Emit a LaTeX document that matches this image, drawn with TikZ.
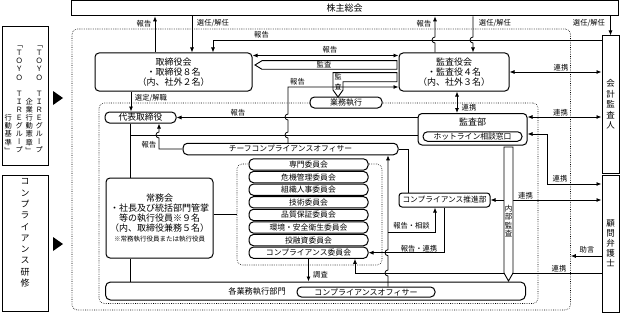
\documentclass[tikz,border=0pt]{standalone}
\usepackage{fontspec}
\setmainfont{Noto Sans CJK JP}
\newfontfamily\vertfont[RawFeature=+vert]{Noto Sans CJK JP}
\usetikzlibrary{arrows.meta}

\begin{document}
\begin{tikzpicture}[x=1pt,y=-1pt,
  >={Latex[length=5pt,width=4pt]},
  line width=0.8pt,
  box/.style={draw,fill=white,line width=1pt,rounded corners=4pt,inner sep=1pt,align=center,font=\fontsize{9}{10}\selectfont},
  sqbox/.style={box,rounded corners=0pt},
  pill/.style={draw,fill=white,line width=1pt,rounded corners=4.5pt,inner sep=0pt,font=\fontsize{7.8}{8}\selectfont},
  lbl/.style={inner sep=0.5pt,font=\fontsize{7.3}{8}\selectfont},
  vtxt/.style={inner sep=0pt,align=center},
  dotbox/.style={draw,line width=0.6pt,dash pattern=on 0.6pt off 1.2pt,rounded corners=5pt},
  blockarrow/.style={draw,line width=0.9pt,fill=white}]
  \useasboundingbox (0,0) rectangle (621,313);

  % dotted regions
  \node[dotbox, minimum width=498.5, minimum height=281] (outer) at (321.25,169.5) {};
  \node[dotbox, minimum width=439, minimum height=200.5] (inner) at (318.5,203.25) {};
  \node[dotbox, minimum width=145, minimum height=101] (grp) at (309.5,214.5) {};

  % left column
  \node[sqbox, minimum width=45.5, minimum height=138] (code) at (25.25,96) {};
  \node[vtxt, anchor=south, font=\vertfont\fontsize{7.3}{8.1}\selectfont] (code-c1) at (39.3,153.5) {「\\Ｔ\\Ｏ\\Ｙ\\Ｏ\\　\\Ｔ\\Ｉ\\Ｒ\\Ｅ\\グ\\ル\\ー\\プ};
  \node[vtxt, anchor=south, font=\vertfont\fontsize{7.3}{8.1}\selectfont] (code-c2) at (29.3,153.5) {企\\業\\行\\動\\憲\\章\\」};
  \node[vtxt, anchor=south, font=\vertfont\fontsize{7.3}{8.1}\selectfont] (code-c3) at (19.3,153.5) {「\\Ｔ\\Ｏ\\Ｙ\\Ｏ\\　\\Ｔ\\Ｉ\\Ｒ\\Ｅ\\グ\\ル\\ー\\プ};
  \node[vtxt, anchor=south, font=\vertfont\fontsize{7.3}{8.1}\selectfont] (code-c4) at (8.3,153.5) {行\\動\\基\\準\\」};
  \node[sqbox, minimum width=45.5, minimum height=136] (training) at (25.25,243) {};
  \node[vtxt, font=\vertfont\fontsize{9}{11.3}\selectfont] (training-t) at (25,233) {コ\\ン\\プ\\ラ\\イ\\ア\\ン\\ス\\研\\修};
  \fill (53,91) -- (63,98) -- (53,105) -- cycle;
  \fill (53,237) -- (63,244) -- (53,251) -- cycle;

  % boxes
  \node[sqbox, minimum width=547, minimum height=15] (gm) at (344.5,8.3) {株主総会};
  \node[box, minimum width=157, minimum height=38] (bod) at (173.5,72) {取締役会\\・取締役８名\\（内、社外２名）};
  \node[box, minimum width=110, minimum height=38] (asb) at (454,72) {監査役会\\・監査役４名\\（内、社外３名）};
  \node[sqbox, minimum width=17, minimum height=137, font=\fontsize{8.5}{10.4}\selectfont] (auditor) at (610.5,104.5) {会\\計\\監\\査\\人};
  \node[sqbox, minimum width=17, minimum height=137, font=\fontsize{8.5}{10}\selectfont] (lawyer) at (610.5,243.5) {顧\\問\\弁\\護\\士};
  \node[pill, minimum width=71, minimum height=11, font=\fontsize{8.8}{9}\selectfont] (rep) at (140.5,117.5) {代表取締役};
  \node[pill, minimum width=72, minimum height=11, font=\fontsize{8}{9}\selectfont] (exec) at (346,102.5) {業務執行};
  \node[pill, minimum width=215, minimum height=11.5] (cco) at (290.5,149) {チーフコンプライアンスオフィサー};
  \node[box, minimum width=107, minimum height=80] (jm) at (159.5,218) {常務会\\・社長及び統括部門管掌\\等の執行役員※９名\\（内、取締役兼務５名）\\{\fontsize{6.5}{8}\selectfont ※常務執行役員または執行役員}};
  \node[box, minimum width=109, minimum height=31.5] (kansabu) at (472.5,129.25) {};
  \node[inner sep=0pt, font=\fontsize{9}{10}\selectfont] (kansabu-t) at (472.5,122.5) {監査部};
  \node[pill, minimum width=99, minimum height=9.5, font=\fontsize{7.8}{8}\selectfont] (hotline) at (472.5,136.5) {ホットライン相談窓口};
  \node[box, rounded corners=3pt, minimum width=91, minimum height=14, font=\fontsize{7.7}{8}\selectfont] (suishin) at (444.5,200) {コンプライアンス推進部};
  \node[pill, minimum width=119, minimum height=11.3] (com1) at (308.5,164.5) {専門委員会};
  \node[pill, minimum width=119, minimum height=11.3] (com2) at (308.5,177.1) {危機管理委員会};
  \node[pill, minimum width=119, minimum height=11.3] (com3) at (308.5,189.7) {組織人事委員会};
  \node[pill, minimum width=119, minimum height=11.3] (com4) at (308.5,202.3) {技術委員会};
  \node[pill, minimum width=119, minimum height=11.3] (com5) at (308.5,214.9) {品質保証委員会};
  \node[pill, minimum width=119, minimum height=11.3] (com6) at (308.5,227.5) {環境・安全衛生委員会};
  \node[pill, minimum width=119, minimum height=11.3] (com7) at (308.5,240.1) {投融資委員会};
  \node[pill, minimum width=119, minimum height=11.3] (com8) at (308.5,252.7) {コンプライアンス委員会};
  \node[box, rounded corners=5pt, minimum width=420, minimum height=18] (kakubu) at (315.5,291) {};
  \node[inner sep=0pt, font=\fontsize{8.2}{9}\selectfont] (kakubu-t) at (257,291) {各業務執行部門};
  \node[pill, minimum width=138, minimum height=10, font=\fontsize{8}{9}\selectfont] (co) at (366,292) {コンプライアンスオフィサー};

  % general meeting
  \draw[->] (bod.north -| 155,0) -- (gm.south -| 155,0);
  \node[lbl] (l-rep1) at (144,23.5) {報告};
  \draw[->] (gm.south -| 192,0) -- (bod.north -| 192,0);
  \node[lbl] (l-sel1) at (213,23.5) {選任/解任};
  \draw[->] (asb.north -| 435,0) -- (435,43) arc[start angle=-90,end angle=-270,radius=3pt] -- (gm.south -| 435,0);
  \node[lbl] (l-rep2) at (424,23.5) {報告};
  \draw[->] (gm.south -| 473,0) -- (473,37) arc[start angle=90,end angle=270,radius=3pt] -- (asb.north -| 473,0);
  \node[lbl] (l-sel2) at (495,23.5) {選任/解任};
  \draw[->] (gm.south -| auditor.north) -- (auditor.north);
  \node[lbl] (l-sel3) at (589,23.5) {選任/解任};

  % board and auditors
  \draw[->] (auditor.west |- 0,40) -| (bod.north -| 213,0);
  \node[lbl] (l-rep3) at (261.5,35) {報告};
  \draw[<->] (bod.east |- 0,55.5) -- (asb.west |- 0,55.5);
  \node[lbl] (l-rep4) at (330,50) {報告};
  \draw[blockarrow] (397,60.7) -- (262,60.7) -- (255,65) -- (262,69.3) -- (397,69.3) -- cycle;
  \node[lbl] (l-audit1) at (324,65) {監査};
  \draw[blockarrow] (397,72.7) -- (333,72.7) -- (333,90) -- (338,97) -- (343,90) -- (343,81.7) -- (397,81.7) -- cycle;
  \node[vtxt, font=\fontsize{7}{9.5}\selectfont] (l-audit2) at (338,82) {監\\査};
  \draw[->] (cco.north -| 288,0) -- (288,138) arc[start angle=-90,end angle=-270,radius=3pt] -- (288,120) arc[start angle=-90,end angle=-270,radius=3pt] -- (288,87) -- (asb.west |- 0,87);
  \node[lbl] (l-rep5) at (297.5,82) {報告};
  \draw[->] (bod.south -| 131,0) -- (rep.north -| 131,0);
  \node[lbl] (l-appoint) at (151,98.5) {選定/解職};

  % executive line
  \draw[->] (kansabu.west |- rep.east) -- (rep.east);
  \node[lbl] (l-rep6) at (238,112.5) {報告};
  \coordinate (spine) at (130,135);
  \draw (rep.south -| spine) -- (jm.north -| spine);
  \draw (jm.south -| spine) -- (kakubu.north -| spine);
  \draw (spine) -- (kansabu.west |- spine);
  \draw[->] (cco.west) -- (159,149) -- (159,138) arc[start angle=-90,end angle=-270,radius=3pt] -- (rep.south -| 159,0);
  \node[lbl] (l-rep7) at (149,144.5) {報告};

  % cooperation
  \draw[<->] (asb.south -| 457,0) -- (kansabu.north -| 457,0);
  \node[lbl] (l-link1) at (469,108) {連携};
  \draw[<->] (asb.east) -- (auditor.west |- asb.east);
  \node[lbl] (l-link2) at (561,67.5) {連携};
  \draw[<->] (kansabu.east |- 0,117) -- (auditor.west |- 0,117);
  \node[lbl] (l-link3) at (560.5,112.5) {連携};
  \draw[<->] (kansabu.east |- 0,134) -- (547,134) -- (547,184) -- (lawyer.west |- 0,184);
  \node[lbl] (l-link4) at (560,179) {連携};
  \draw[<->] (suishin.east) -- (lawyer.west |- suishin.east);
  \node[lbl] (l-link5) at (525.5,195.5) {連携};

  % compliance
  \draw (cco.east) -| (suishin.north -| 408,0);
  \draw (jm.east |- grp.west) -- (grp.west);
  \draw[->] (com8.south) -- (kakubu.north -| com8.south);
  \node[lbl] (l-survey) at (320.5,274.5) {調査};
  \draw[->] (co.north -| 388,0) -- (388,276) arc[start angle=-90,end angle=-270,radius=3pt] -- (388,255.7) arc[start angle=-90,end angle=-270,radius=3pt] -- (cco.south -| 388,0);
  \coordinate (consult) at (388,232);
  \draw[->] (consult) -| (suishin.south -| 435,0);
  \node[lbl] (l-consult) at (411.5,225.5) {報告・相談};
  \draw[->] (suishin.south) |- (com8.east);
  \node[lbl] (l-coop) at (419,248.5) {報告・連携};
  \draw[->] (lawyer.west |- 0,256) -- (outer.east |- 0,256);
  \node[lbl] (l-advice) at (587,250) {助言};
  \draw[->] (lawyer.west |- 0,273) -- (355,273) -- (com8.south -| 355,0);
  \node[lbl] (l-link6) at (559,268.5) {連携};

  % internal audit
  \draw[blockarrow] (504,147) -- (504,273) -- (508.5,281) -- (513,273) -- (513,147) -- cycle;
  \node[vtxt, font=\fontsize{7.5}{8.3}\selectfont] (l-internal) at (508.5,221) {内\\部\\監\\査};
\end{tikzpicture}
\end{document}
